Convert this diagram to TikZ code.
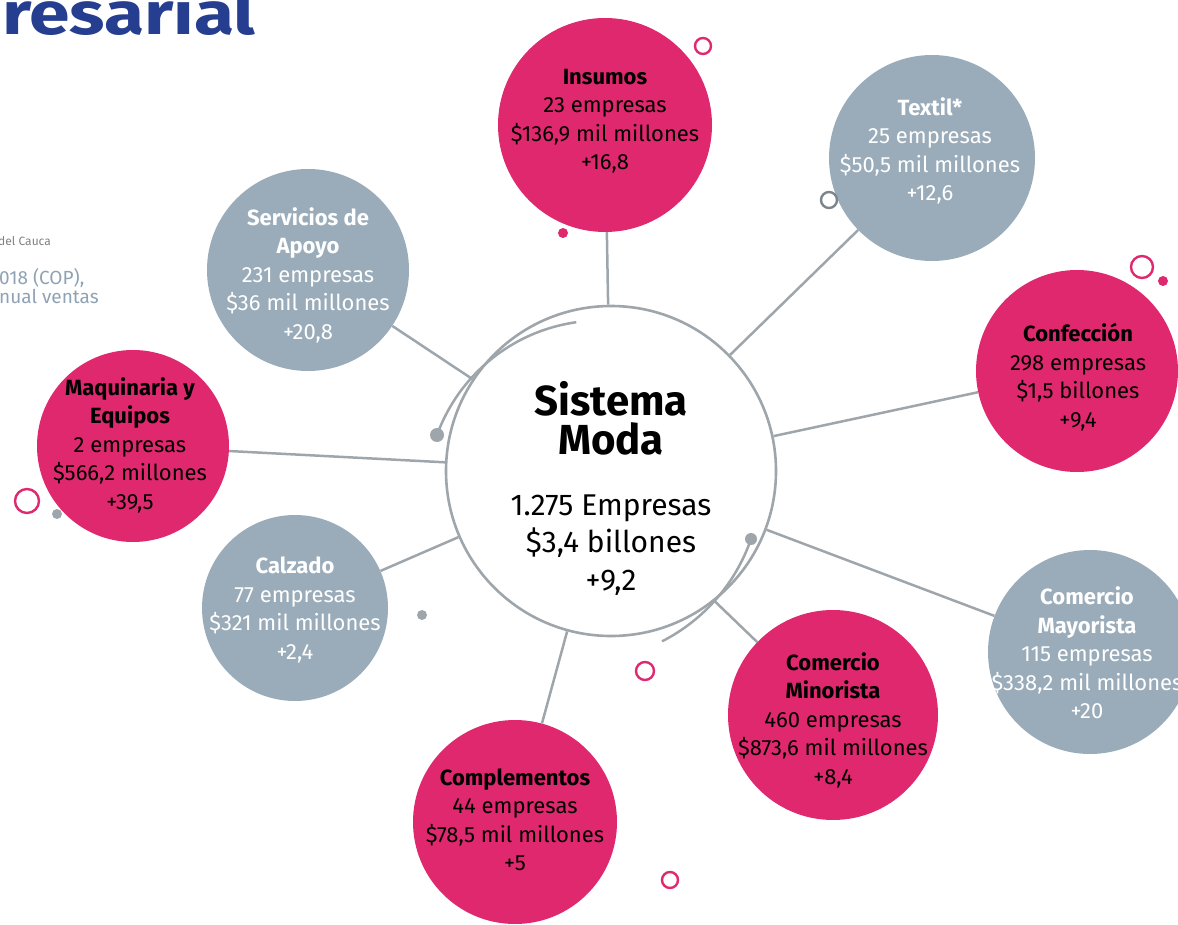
\documentclass[tikz,border=0pt]{standalone}
\usepackage{fontspec}
\setmainfont{Fira Sans}
\definecolor{modapink}{HTML}{E0286F}
\definecolor{modagray}{HTML}{9AACB9}
\definecolor{linegray}{HTML}{9EA6AC}
\definecolor{headblue}{HTML}{263E8F}
\definecolor{notegray}{HTML}{8FA2B4}

\begin{document}
\begin{tikzpicture}[x=1pt, y=-1pt,
    bubble/.style={circle, inner sep=0pt},
    pinkb/.style={bubble, fill=modapink},
    grayb/.style={bubble, fill=modagray},
    btext/.style={align=center, inner sep=0pt, font=\fontsize{22}{28.5}\selectfont},
    link/.style={draw=linegray, line width=2.5pt},
    ring/.style={line width=2.4pt}]
    \useasboundingbox (0,0) rectangle (1178,925);
    \node[anchor=base west, text=headblue, font=\fontsize{60}{60}\bfseries\selectfont, inner sep=0] (header) at (2,35) {\scalebox{1.22}[1]{resarial}};
    \node[anchor=west, text=gray, font=\fontsize{12}{12}\selectfont, inner sep=0] (region) at (-2,241) {del Cauca};
    \node[anchor=north west, align=left, text=notegray, font=\fontsize{19}{19}\selectfont, inner sep=0] (note) at (-1,268) {018 (COP),\\nual ventas};
    \node[circle, draw=linegray, line width=2.6pt, fill=white, minimum size=330, inner sep=0] (moda) at (611,471) {};
    \node[align=center, inner sep=0pt, font=\fontsize{42}{39}\bfseries\selectfont] (modatitle) at (611,418) {Sistema\\Moda};
    \node[align=center, inner sep=0pt, font=\fontsize{30}{37.5}\selectfont] (modadata) at (611,545) {1.275 Empresas\\\$3,4 billones\\+9,2};
    \node[pinkb, minimum size=214] (insumos) at (605,125) {};
    \node[btext] (insumostxt) at (605,121) {\textbf{Insumos}\\23 empresas\\\$136,9 mil millones\\+16,8};
    \node[grayb, minimum size=206] (textil) at (932,158) {};
    \node[btext, text=white] (textiltxt) at (930,151) {\textbf{Textil*}\\25 empresas\\\$50,5 mil millones\\+12,6};
    \node[pinkb, minimum size=202] (confeccion) at (1077,371) {};
    \node[btext] (confecciontxt) at (1078,377) {\textbf{Confección}\\298 empresas\\\$1,5 billones\\+9,4};
    \node[grayb, minimum size=204] (mayorista) at (1090,652) {};
    \node[btext, text=white] (mayoristatxt) at (1087,653) {\textbf{Comercio}\\\textbf{Mayorista}\\115 empresas\\\$338,2 mil millones\\+20};
    \node[pinkb, minimum size=210] (minorista) at (833,715) {};
    \node[btext] (minoristatxt) at (833,720) {\textbf{Comercio}\\\textbf{Minorista}\\460 empresas\\\$873,6 mil millones\\+8,4};
    \node[pinkb, minimum size=204] (complementos) at (515,822) {};
    \node[btext] (complementostxt) at (515,820) {\textbf{Complementos}\\44 empresas\\\$78,5 mil millones\\+5};
    \node[grayb, minimum size=186] (calzado) at (295,608) {};
    \node[btext, text=white] (calzadotxt) at (295,610) {\textbf{Calzado}\\77 empresas\\\$321 mil millones\\+2,4};
    \node[pinkb, minimum size=192] (maquinaria) at (133,446) {};
    \node[btext] (maquinariatxt) at (130,445) {\textbf{Maquinaria y}\\\textbf{Equipos}\\2 empresas\\\$566,2 millones\\+39,5};
    \node[grayb, minimum size=202] (servicios) at (308,270) {};
    \node[btext, text=white] (serviciostxt) at (308,275) {\textbf{Servicios de}\\\textbf{Apoyo}\\231 empresas\\\$36 mil millones\\+20,8};
    \draw[link] (437,435) arc[start angle=200, end angle=262, radius=174];
    \draw[link] (751,539) arc[start angle=19, end angle=63, radius=181];
    \coordinate (arcjoin) at (714.5,601);
    \draw[link] (moda) -- (insumos);
    \draw[link] (moda) -- (textil);
    \draw[link] (moda) -- (confeccion);
    \draw[link] (moda) -- (mayorista);
    \draw[link] (arcjoin) -- (minorista);
    \draw[link] (moda) -- (complementos);
    \draw[link] (moda) -- (calzado);
    \draw[link] (moda) -- (maquinaria);
    \draw[link] (moda) -- (servicios);
    \fill[linegray] (437,435) circle[radius=7];
    \fill[linegray] (751,539) circle[radius=6];
    \draw[modapink, ring] (703,46) circle[radius=8];
    \draw[linegray!80!black, ring] (829,200) circle[radius=8];
    \draw[modapink, ring] (1142,267) circle[radius=11];
    \fill[modapink] (1163,281) circle[radius=5];
    \draw[modapink, ring] (27,501) circle[radius=12];
    \fill[linegray] (57,514) circle[radius=5];
    \fill[modapink] (563,233) circle[radius=5];
    \fill[linegray] (422,615) circle[radius=5];
    \draw[modapink, ring] (645,671) circle[radius=9];
    \draw[modapink, ring] (670,880) circle[radius=8];
\end{tikzpicture}
\end{document}
